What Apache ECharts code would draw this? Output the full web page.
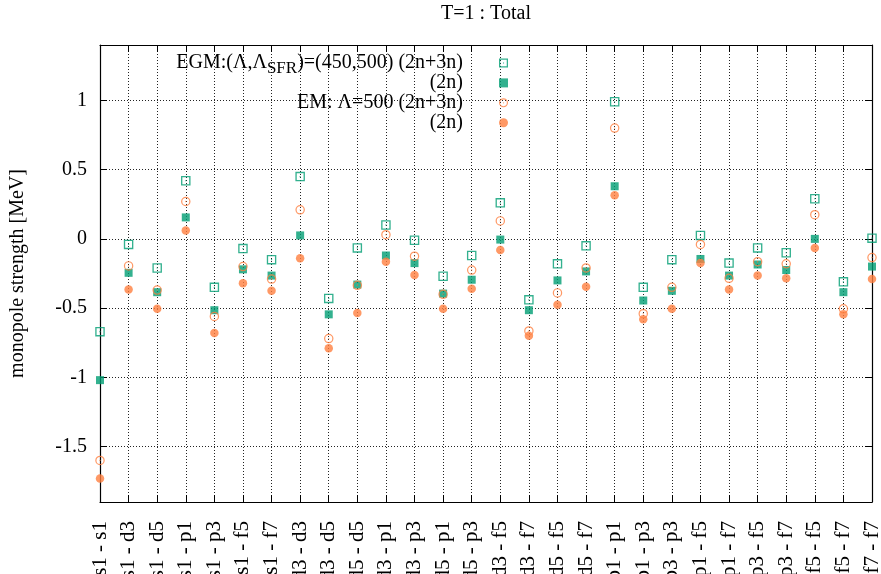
<!DOCTYPE html>
<html>
<head>
<meta charset="utf-8">
<script src="https://cdn.jsdelivr.net/npm/echarts@6/dist/echarts.min.js"></script>
<style>html,body{margin:0;padding:0;background:#fff;}#c{width:881px;height:574px;}</style>
</head>
<body>
<div id="c"></div>
<script>
const categories = ['s1 - s1','s1 - d3','s1 - d5','s1 - p1','s1 - p3','s1 - f5','s1 - f7','d3 - d3','d3 - d5','d5 - d5','d3 - p1','d3 - p3','d5 - p1','d5 - p3','d3 - f5','d3 - f7','d5 - f5','d5 - f7','p1 - p1','p1 - p3','p3 - p3','p1 - f5','p1 - f7','p3 - f5','p3 - f7','f5 - f5','f5 - f7','f7 - f7'];
const egm23 = [-0.67,-0.04,-0.21,0.42,-0.35,-0.07,-0.15,0.45,-0.43,-0.065,0.10,-0.01,-0.27,-0.12,0.26,-0.44,-0.18,-0.05,0.99,-0.35,-0.15,0.025,-0.175,-0.065,-0.10,0.29,-0.31,0.005];
const egm2 = [-1.02,-0.245,-0.385,0.155,-0.515,-0.22,-0.265,0.025,-0.545,-0.33,-0.12,-0.175,-0.395,-0.295,-0.005,-0.515,-0.30,-0.235,0.38,-0.445,-0.375,-0.145,-0.265,-0.185,-0.225,0.0,-0.385,-0.20];
const em23 = [-1.60,-0.195,-0.37,0.27,-0.56,-0.20,-0.29,0.21,-0.72,-0.335,0.03,-0.125,-0.40,-0.225,0.13,-0.665,-0.39,-0.21,0.80,-0.54,-0.35,-0.04,-0.285,-0.165,-0.18,0.175,-0.505,-0.135];
const em2 = [-1.73,-0.365,-0.505,0.06,-0.68,-0.32,-0.375,-0.14,-0.79,-0.535,-0.165,-0.26,-0.505,-0.36,-0.08,-0.70,-0.475,-0.345,0.315,-0.58,-0.505,-0.175,-0.365,-0.265,-0.285,-0.065,-0.545,-0.29];
const yTicks = [-1.5,-1,-0.5,0,0.5,1];
const yMin = -1.9, yMax = 1.4;

const GREEN = '#009e73', ORANGE = '#ff7f40';
const FONT = 'Liberation Serif';
const openSquare = 'path://M0,0 L100,0 L100,100 L0,100 Z M14,14 L14,86 L86,86 L86,14 Z M44,44 L56,44 L56,56 L44,56 Z';
const openCircle = 'path://M50,0 A50,50 0 1,1 50,100 A50,50 0 1,1 50,0 Z M50,13 A37,37 0 1,0 50,87 A37,37 0 1,0 50,13 Z M50,43 A7,7 0 1,1 50,57 A7,7 0 1,1 50,43 Z';

const legendText = {
  egm23: '{t|EGM:(Λ,Λ}{sub|SFR}{t|)=(450,500) (2n+3n)}{sp|}',
  egm2: '{t|(2n)}{pad|}{sp|}',
  em23: '{t|EM: Λ=500 (2n+3n)}{pad|}{sp|}',
  em2: '{t|(2n)}{pad|}{sp|}'
};

const gridLine = {show: true, lineStyle: {color: '#222', width: 1, type: [1, 2]}};
const frameLine = {show: true, onZero: false, lineStyle: {color: '#000', width: 1.2}};

const chart = echarts.init(document.getElementById('c'));
chart.setOption({
  animation: false,
  backgroundColor: '#fff',
  textStyle: {fontFamily: FONT},
  title: {
    text: 'T=1 : Total', left: 486, top: 4, padding: 0, textAlign: 'center',
    textStyle: {fontFamily: FONT, fontSize: 20, fontWeight: 'normal', color: '#000'}
  },
  grid: {left: 100, right: 9, top: 45, bottom: 72, containLabel: false, outerBoundsMode: 'none'},
  legend: {
    orient: 'vertical', align: 'right', right: 373, top: 53, padding: 0,
    itemGap: -4.1, itemWidth: 9, itemHeight: 9,
    data: ['egm23', 'egm2', 'em23', 'em2'],
    formatter: n => legendText[n],
    textStyle: {
      fontFamily: FONT, fontSize: 20, color: '#000',
      rich: {
        t: {fontFamily: FONT, fontSize: 20, lineHeight: 20, color: '#000'},
        sub: {fontFamily: FONT, fontSize: 17, lineHeight: 4, padding: [7, 0, 0, 0], verticalAlign: 'top', color: '#000'},
        pad: {fontFamily: FONT, fontSize: 17, lineHeight: 4, padding: [7, 0, 0, 0], verticalAlign: 'top', width: 0},
        sp: {width: 31, lineHeight: 20}
      }
    }
  },
  xAxis: [{
    type: 'category', data: categories, boundaryGap: false, position: 'bottom',
    axisLine: frameLine,
    axisTick: {show: true, inside: true, length: 7, interval: 0, lineStyle: {color: '#000'}},
    axisLabel: {interval: 0, rotate: 90, margin: 19, fontFamily: FONT, fontSize: 21, color: '#000'},
    splitLine: Object.assign({interval: 0}, gridLine)
  }, {
    type: 'category', data: categories, boundaryGap: false, position: 'top',
    axisLine: frameLine,
    axisTick: {show: true, inside: true, length: 7, interval: 0, lineStyle: {color: '#000'}},
    axisLabel: {show: false},
    splitLine: {show: false}
  }],
  yAxis: [{
    type: 'value', min: yMin, max: yMax, position: 'left',
    name: 'monopole strength [MeV]', nameLocation: 'middle', nameRotate: 90, nameGap: 72, nameMoveOverlap: false,
    nameTextStyle: {fontFamily: FONT, fontSize: 20, color: '#000'},
    axisLine: frameLine,
    axisTick: {show: true, inside: true, length: 7, customValues: yTicks, lineStyle: {color: '#000'}},
    axisLabel: {customValues: yTicks, margin: 13, fontFamily: FONT, fontSize: 20, color: '#000', formatter: v => String(v)},
    splitLine: gridLine
  }, {
    type: 'value', min: yMin, max: yMax, position: 'right',
    axisLine: frameLine,
    axisTick: {show: true, inside: true, length: 7, customValues: yTicks, lineStyle: {color: '#000'}},
    axisLabel: {show: false},
    splitLine: {show: false}
  }],
  series: [
    {name: 'egm23', type: 'scatter', data: egm23, symbol: openSquare, symbolSize: 9.5, clip: false, itemStyle: {color: GREEN}, z: 3},
    {name: 'egm2', type: 'scatter', data: egm2, symbol: 'rect', symbolSize: 8, clip: false, itemStyle: {color: GREEN}, z: 4},
    {name: 'em23', type: 'scatter', data: em23, symbol: openCircle, symbolSize: 9.5, clip: false, itemStyle: {color: ORANGE}, z: 5},
    {name: 'em2', type: 'scatter', data: em2, symbol: 'circle', symbolSize: 8.5, clip: false, itemStyle: {color: ORANGE}, z: 6}
  ]
});
</script>
</body>
</html>
